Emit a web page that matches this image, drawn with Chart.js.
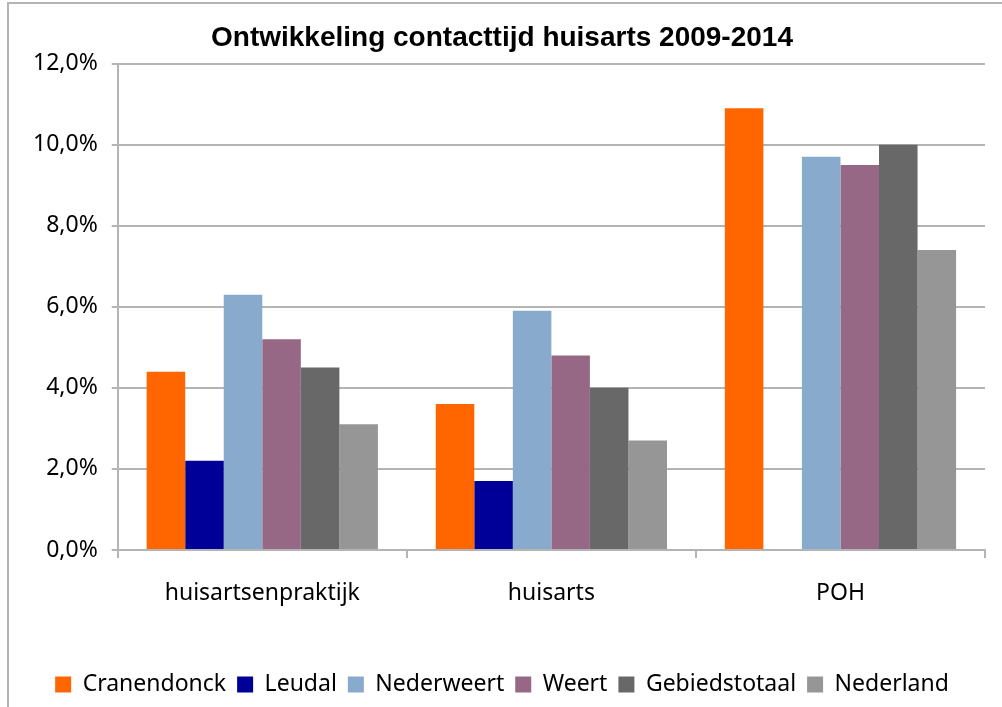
<!DOCTYPE html>
<html>
<head>
<meta charset="utf-8">
<script src="https://cdn.jsdelivr.net/npm/chart.js@4/dist/chart.umd.min.js"></script>
<style>
  html, body { margin: 0; padding: 0; background: #fff; }
  #wrap { width: 1002px; height: 707px; position: relative; }
</style>
</head>
<body>
<div id="wrap"><canvas id="chart"></canvas></div>
<script>
var categories = ['huisartsenpraktijk', 'huisarts', 'POH'];
var cranendonck = [4.4, 3.6, 10.9];
var leudal = [2.2, 1.7, null];
var nederweert = [6.3, 5.9, 9.7];
var weert = [5.2, 4.8, 9.5];
var gebiedstotaal = [4.5, 4.0, 10.0];
var nederland = [3.1, 2.7, 7.4];
var yTicks = [0, 2, 4, 6, 8, 10, 12];

var textFont = "'Noto Sans', 'Liberation Sans', sans-serif";

// grey frame around the whole chart, as in the original export
var framePlugin = {
  id: 'frame',
  afterDraw: function(chart) {
    var ctx = chart.ctx;
    ctx.save();
    ctx.strokeStyle = '#b4b4b4';
    ctx.lineWidth = 2;
    ctx.strokeRect(8, 3, 1010, 720);
    ctx.restore();
  }
};

var ctx = document.getElementById('chart').getContext('2d');
var myChart = new Chart(ctx, {
  type: 'bar',
  data: {
    labels: categories,
    datasets: [
      { label: 'Cranendonck', data: cranendonck, backgroundColor: '#ff6600' },
      { label: 'Leudal', data: leudal, backgroundColor: '#000099' },
      { label: 'Nederweert', data: nederweert, backgroundColor: '#88aacc' },
      { label: 'Weert', data: weert, backgroundColor: '#976886' },
      { label: 'Gebiedstotaal', data: gebiedstotaal, backgroundColor: '#686868' },
      { label: 'Nederland', data: nederland, backgroundColor: '#969696' }
    ]
  },
  options: {
    responsive: true,
    maintainAspectRatio: false,
    animation: false,
    layout: { padding: { left: 19, right: 17, top: 8, bottom: 1 } },
    datasets: { bar: { categoryPercentage: 0.8, barPercentage: 1.0 } },
    plugins: {
      title: {
        display: true,
        text: 'Ontwikkeling contacttijd huisarts 2009-2014',
        color: '#000',
        font: { family: "'Liberation Sans', sans-serif", size: 28, weight: 'bold' },
        padding: { top: 13, bottom: 9 }
      },
      legend: {
        position: 'bottom',
        labels: {
          color: '#000',
          font: { family: textFont, size: 23 },
          boxWidth: 16,
          boxHeight: 16,
          padding: 11
        }
      },
      tooltip: { enabled: false }
    },
    scales: {
      x: {
        afterFit: function(axis) { axis.height = 112; },
        grid: { drawOnChartArea: false, offset: true, tickLength: 8, color: '#b4b4b4', lineWidth: 2 },
        border: { color: '#b4b4b4', width: 2 },
        ticks: { color: '#000', font: { family: textFont, size: 23 }, padding: 22 }
      },
      y: {
        min: 0,
        max: 12,
        afterBuildTicks: function(axis) {
          axis.ticks = yTicks.map(function(v) { return { value: v }; });
        },
        grid: { color: '#b4b4b4', lineWidth: 2, tickLength: 6 },
        border: { color: '#b4b4b4', width: 2 },
        ticks: {
          color: '#000',
          font: { family: textFont, size: 23 },
          padding: 14,
          callback: function(v) { return v.toFixed(1).replace('.', ',') + '%'; }
        }
      }
    }
  },
  plugins: [framePlugin]
});
</script>
</body>
</html>
